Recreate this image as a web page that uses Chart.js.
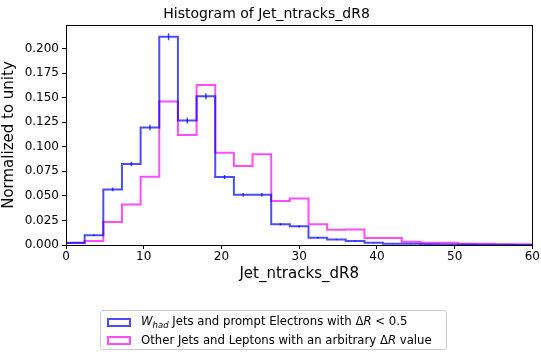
<!DOCTYPE html>
<html>
<head>
<meta charset="utf-8">
<script src="https://cdn.jsdelivr.net/npm/chart.js@4.4.1/dist/chart.umd.min.js"></script>
<style>
  html, body { margin: 0; padding: 0; background: #fff; }
  #wrap { position: relative; width: 541px; height: 356px; }
  #legend {
    position: absolute; left: 100px; top: 310px; width: 347px; height: 40px;
    border: 1px solid #cccccc; border-radius: 3px; box-sizing: border-box;
    font-family: "DejaVu Sans", sans-serif; font-size: 11.7px; color: #000;
    padding: 2px 0 0 6px; background: rgba(255,255,255,0.8);
  }
  .row { display: flex; align-items: center; height: 18px; white-space: nowrap; }
  .sw { width: 24px; height: 9px; border: 2px solid; box-sizing: border-box; margin-right: 10px; }
</style>
</head>
<body>
<div id="wrap">
  <canvas id="c" width="541" height="356"></canvas>
  <div id="legend"></div>
</div>
<script>
// Histogram bin edges (25 bins over 0..60)
const binEdges = [0, 2.4, 4.8, 7.2, 9.6, 12, 14.4, 16.8, 19.2, 21.6, 24, 26.4, 28.8,
                  31.2, 33.6, 36, 38.4, 40.8, 43.2, 45.6, 48, 50.4, 52.8, 55.2, 57.6, 60];

// Normalized bin contents
const whadJets = [0.0024, 0.0099, 0.0566, 0.0825, 0.1196, 0.2120, 0.1268, 0.1515, 0.0692,
                  0.0511, 0.0511, 0.0211, 0.0190, 0.0074, 0.0055, 0.0041, 0.0022, 0.0014,
                  0.0012, 0.0008, 0.0006, 0.0004, 0.0003, 0.0002, 0.0001];
const whadErrors = [0.0004, 0.0008, 0.0019, 0.0023, 0.0028, 0.0036, 0.0029, 0.0031, 0.0021,
                    0.0018, 0.0018, 0.0012, 0.0011, 0.0007, 0.0006, 0.0005, 0.0004, 0.0003,
                    0.0003, 0.0002, 0.0002, 0.0002, 0.0001, 0.0001, 0.0001];
const otherJets = [0.0020, 0.0040, 0.0235, 0.0412, 0.0695, 0.1460, 0.1120, 0.1630, 0.0940,
                   0.0804, 0.0923, 0.0447, 0.0474, 0.0211, 0.0155, 0.0157, 0.0072, 0.0072,
                   0.0033, 0.0024, 0.0024, 0.0014, 0.0014, 0.0007, 0.0007];

const yTicks = [0, 0.025, 0.05, 0.075, 0.1, 0.125, 0.15, 0.175, 0.2];
const xTicks = [0, 10, 20, 30, 40, 50, 60];

const seriesLabels = [
  '<i>W<sub style="font-size:8.5px">had</sub></i>&nbsp;Jets and prompt Electrons with Δ<i>R</i> &lt; 0.5',
  'Other Jets and Leptons with an arbitrary Δ<i>R</i> value'
];
const blue = 'rgba(0,0,255,0.7)';
const magenta = 'rgba(255,0,255,0.7)';

// Step outline: start on the baseline, one point per left bin edge, back to baseline
function stepPoints(values) {
  const pts = [{ x: binEdges[0], y: 0 }];
  values.forEach((v, i) => pts.push({ x: binEdges[i], y: v }));
  pts.push({ x: binEdges[binEdges.length - 1], y: 0 });
  return pts;
}

const errorBars = {
  id: 'errorBars',
  afterDatasetsDraw(chart) {
    const { ctx, scales: { x, y } } = chart;
    ctx.save();
    ctx.strokeStyle = blue;
    ctx.lineWidth = 1.5;
    whadJets.forEach((v, i) => {
      const cx = x.getPixelForValue((binEdges[i] + binEdges[i + 1]) / 2);
      ctx.beginPath();
      ctx.moveTo(cx, y.getPixelForValue(v - whadErrors[i]));
      ctx.lineTo(cx, y.getPixelForValue(v + whadErrors[i]));
      ctx.stroke();
    });
    ctx.restore();
  }
};

const frame = {
  id: 'frame',
  afterDraw(chart) {
    const { ctx, chartArea: a } = chart;
    ctx.save();
    ctx.strokeStyle = '#000';
    ctx.lineWidth = 1;
    ctx.strokeRect(Math.round(a.left) + 0.5, Math.round(a.top) + 0.5,
                   Math.round(a.right - a.left), Math.round(a.bottom - a.top));
    ctx.restore();
  }
};

const tickFont = { family: 'DejaVu Sans', size: 12 };
const labelFont = { family: 'DejaVu Sans', size: 15 };

new Chart(document.getElementById('c'), {
  type: 'line',
  data: {
    datasets: [
      { data: stepPoints(whadJets), borderColor: blue, borderWidth: 2, stepped: 'before',
        pointRadius: 0, fill: false },
      { data: stepPoints(otherJets), borderColor: magenta, borderWidth: 2, stepped: 'before',
        pointRadius: 0, fill: false }
    ]
  },
  options: {
    responsive: false,
    animation: false,
    layout: { padding: { left: 0, right: 8, top: 0, bottom: 71 } },
    plugins: {
      legend: { display: false },
      tooltip: { enabled: false },
      title: {
        display: true, text: 'Histogram of Jet_ntracks_dR8', color: '#000',
        font: { family: 'DejaVu Sans', size: 14, weight: 'normal' },
        padding: { top: 6, bottom: 2.2 }
      }
    },
    scales: {
      x: {
        type: 'linear', min: 0, max: 60,
        afterBuildTicks: s => { s.ticks = xTicks.map(v => ({ value: v })); },
        afterFit: s => { s.height = 40; },
        ticks: { color: '#000', font: tickFont, padding: 1, maxRotation: 0 },
        grid: { drawOnChartArea: false, drawTicks: true, tickLength: 4, color: '#000' },
        border: { display: true, color: '#000' },
        title: { display: true, text: 'Jet_ntracks_dR8', color: '#000', font: labelFont,
                 padding: { top: 0, bottom: 2 } }
      },
      y: {
        type: 'linear', min: 0, max: 0.224,
        afterBuildTicks: s => { s.ticks = yTicks.map(v => ({ value: v })); },
        afterFit: s => { s.width = 66; },
        ticks: { color: '#000', font: tickFont, padding: 3,
                 callback: v => Number(v).toFixed(3) },
        grid: { drawOnChartArea: false, drawTicks: true, tickLength: 4, color: '#000' },
        border: { display: true, color: '#000' },
        title: { display: true, text: 'Normalized to unity', color: '#000', font: labelFont,
                 padding: { top: 0, bottom: 0 } }
      }
    }
  },
  plugins: [errorBars, frame]
});

const legendEl = document.getElementById('legend');
[blue, magenta].forEach((col, i) => {
  const row = document.createElement('div');
  row.className = 'row';
  row.innerHTML = '<span class="sw" style="border-color:' + col + '"></span><span>' +
                  seriesLabels[i] + '</span>';
  legendEl.appendChild(row);
});
</script>
</body>
</html>
